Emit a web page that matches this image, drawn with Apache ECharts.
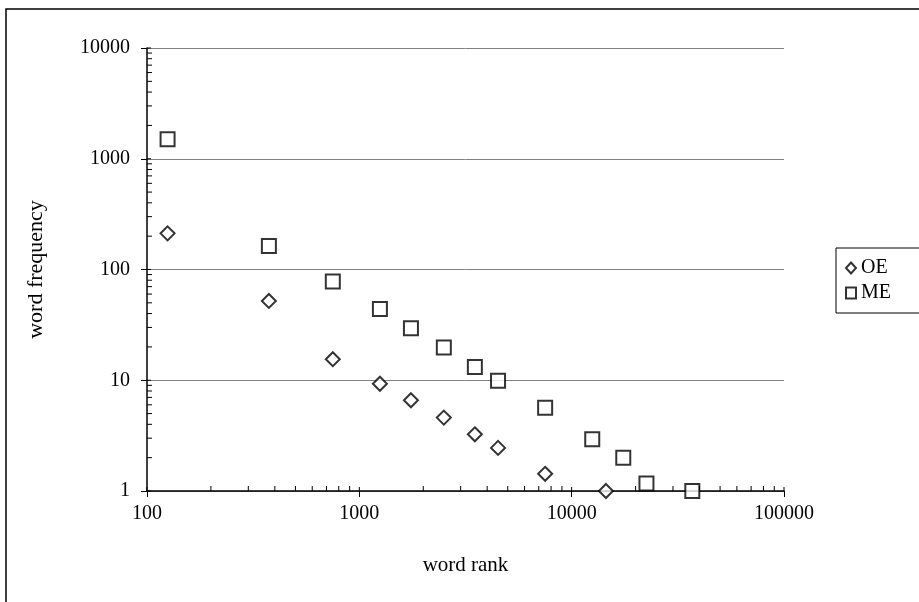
<!DOCTYPE html>
<html>
<head>
<meta charset="utf-8">
<script src="https://cdn.jsdelivr.net/npm/echarts@6/dist/echarts.min.js"></script>
<style>
  html, body { margin: 0; padding: 0; background: #fff; }
  #chart { width: 919px; height: 602px; }
</style>
</head>
<body>
<div id="chart"></div>
<script>
// word rank (x) and word frequency (y)
const oeRank = [125, 375, 750, 1250, 1750, 2500, 3500, 4500, 7500, 14500];
const oeFreq = [212, 52, 15.5, 9.3, 6.6, 4.6, 3.25, 2.45, 1.43, 1];
const meRank = [125, 375, 750, 1250, 1750, 2500, 3500, 4500, 7500, 12500, 17500, 22500, 37000];
const meFreq = [1500, 163, 78, 44, 29.5, 19.8, 13.2, 9.9, 5.65, 2.93, 2.0, 1.17, 1];

// minor tick positions (2..9 of each decade)
const minorSteps = [2, 3, 4, 5, 6, 7, 8, 9];
const xDecades = [100, 1000, 10000];
const yDecades = [1, 10, 100, 1000];
const xMajor = [100, 1000, 10000, 100000];
const yMajor = [1, 10, 100, 1000, 10000];

const xMinor = [];
xDecades.forEach(d => minorSteps.forEach(s => xMinor.push(d * s)));
const yMinor = [];
yDecades.forEach(d => minorSteps.forEach(s => yMinor.push(d * s)));

const font = "'Liberation Serif', 'Times New Roman', serif";

function tickSeries(values, dir, len) {
  return {
    type: "custom",
    silent: true,
    clip: false,
    legendHoverLink: false,
    data: values.map(v => [v]),
    renderItem: function (params, api) {
      const v = api.value(0);
      if (dir === "x") {
        const p = api.coord([v, 1]);
        return { type: "line", shape: { x1: p[0], y1: p[1], x2: p[0], y2: p[1] - len },
                 style: { stroke: "#000", lineWidth: 1 } };
      }
      const p = api.coord([100, v]);
      return { type: "line", shape: { x1: p[0], y1: p[1], x2: p[0] + len, y2: p[1] },
               style: { stroke: "#000", lineWidth: 1 } };
    },
    z: 3
  };
}

const chart = echarts.init(document.getElementById("chart"));
chart.setOption({
  animation: false,
  backgroundColor: "#fff",
  textStyle: { fontFamily: font },
  graphic: [{
    type: "rect",
    shape: { x: 6, y: 9, width: 1000, height: 1000 },
    style: { fill: null, stroke: "#000", lineWidth: 1.5 },
    silent: true
  }],
  grid: { left: 147, right: 135, top: 48, bottom: 111 },
  legend: {
    data: ["OE", "ME"],
    orient: "vertical",
    left: 836,
    top: 248,
    padding: [10, 34, 10, 9],
    itemGap: 5,
    itemWidth: 10,
    itemHeight: 11,
    borderColor: "#000",
    borderWidth: 1,
    textStyle: { fontFamily: font, fontSize: 20, color: "#000" }
  },
  xAxis: {
    type: "log",
    logBase: 10,
    min: 100,
    max: 100000,
    name: "word rank",
    nameLocation: "middle",
    nameGap: 64,
    nameTextStyle: { fontFamily: font, fontSize: 21, color: "#000" },
    axisLine: { lineStyle: { color: "#000", width: 1.5 } },
    axisTick: { show: true, inside: false, length: 6, lineStyle: { color: "#000" } },
    axisLabel: { fontFamily: font, fontSize: 20, color: "#000", margin: 13,
                 formatter: v => String(v) },
    splitLine: { show: false }
  },
  yAxis: {
    type: "log",
    logBase: 10,
    min: 1,
    max: 10000,
    name: "word frequency",
    nameLocation: "middle",
    nameGap: 100,
    nameRotate: 90,
    nameTextStyle: { fontFamily: font, fontSize: 22, color: "#000" },
    axisLine: { lineStyle: { color: "#000", width: 1.5 } },
    axisTick: { show: true, inside: false, length: 6, lineStyle: { color: "#000" } },
    axisLabel: { fontFamily: font, fontSize: 20, color: "#000", margin: 17,
                 formatter: v => String(v) },
    splitLine: { show: true, lineStyle: { color: "#808080", width: 1 } }
  },
  series: [
    {
      name: "OE",
      type: "scatter",
      symbol: "diamond",
      symbolSize: 14,
      data: oeRank.map((r, i) => [r, oeFreq[i]]),
      itemStyle: { color: "#fff", borderColor: "#000", borderWidth: 2 },
      z: 5
    },
    {
      name: "ME",
      type: "scatter",
      symbol: "rect",
      symbolSize: 14,
      data: meRank.map((r, i) => [r, meFreq[i]]),
      itemStyle: { color: "#fff", borderColor: "#000", borderWidth: 2 },
      z: 5
    },
    tickSeries(xMinor, "x", 5),
    tickSeries(xMajor, "x", 4),
    tickSeries(yMinor, "y", 5),
    tickSeries(yMajor, "y", 4)
  ]
});
</script>
</body>
</html>
